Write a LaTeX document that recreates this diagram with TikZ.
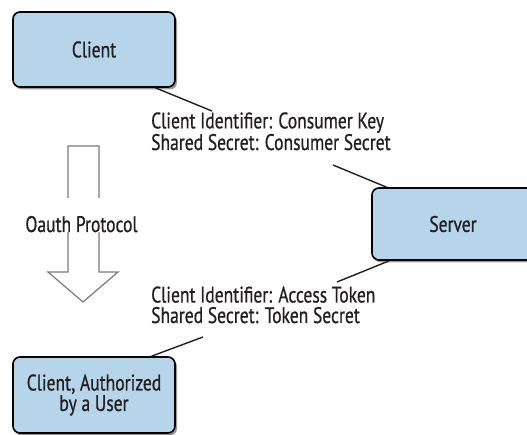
\documentclass[tikz,border=0pt]{standalone}
\usepackage{fontspec}
\setmainfont[FakeStretch=0.78,FakeBold=0.7]{PT Sans}
\usetikzlibrary{shadows}
\definecolor{boxblue}{HTML}{B6D5EA}
\definecolor{ink}{HTML}{231F20}
\definecolor{arrowgray}{HTML}{7A7A7A}
\begin{document}
\begin{tikzpicture}[x=1pt,y=-1pt,
  txt/.style={text=ink, font=\fontsize{22.5}{20.5}\selectfont},
  box/.style={txt, draw=black, line width=1.6pt, fill=boxblue, rounded corners=7pt,
    align=center, minimum width=162pt,
    drop shadow={shadow xshift=2pt, shadow yshift=-2.5pt, opacity=0.4, fill=black}},
  lbl/.style={txt, align=left, inner sep=0pt, anchor=base west},
  conn/.style={line width=1.4pt, draw=ink},
  bigarrow/.style={draw=arrowgray, line width=1.2pt, line join=miter}]
\useasboundingbox (0,0) rectangle (527,435);
\clip (0,0) rectangle (527,435);
% boxes
\node[box, minimum height=75pt] (client) at (94,49.5) {Client};
\node[box, minimum height=72pt] (server) at (453,224) {Server};
\node[box, minimum height=76pt] (auth) at (94,395) {Client, Authorized\\by a User};
% labels (base anchor = baseline of last line)
\node[lbl] (lab1) at (151,150) {Client Identifier: Consumer Key\\Shared Secret: Consumer Secret};
\node[lbl] (lab2) at (151,323) {Client Identifier: Access Token\\Shared Secret: Token Secret};
% connector free ends
\coordinate (e1) at (212,111);
\coordinate (e2) at (333,165);
\coordinate (e3) at (337,282);
\coordinate (e4) at (203,337);
\draw[conn] (client.-32) -- (e1);
\draw[conn] (e2) -- (server.151);
\draw[conn] (server.-150) -- (e3);
\draw[conn] (e4) -- (auth.34);
% protocol arrow
\draw[bigarrow] (68,146) -- (99,146) -- (99,272) -- (118,272) -- (83,302) -- (48,272) -- (68,272) -- cycle;
\node[txt, fill=white, anchor=base, inner xsep=1pt, inner ysep=0pt, text height=34pt, text depth=0pt] (proto) at (81.5,232) {Oauth Protocol};
\end{tikzpicture}
\end{document}
